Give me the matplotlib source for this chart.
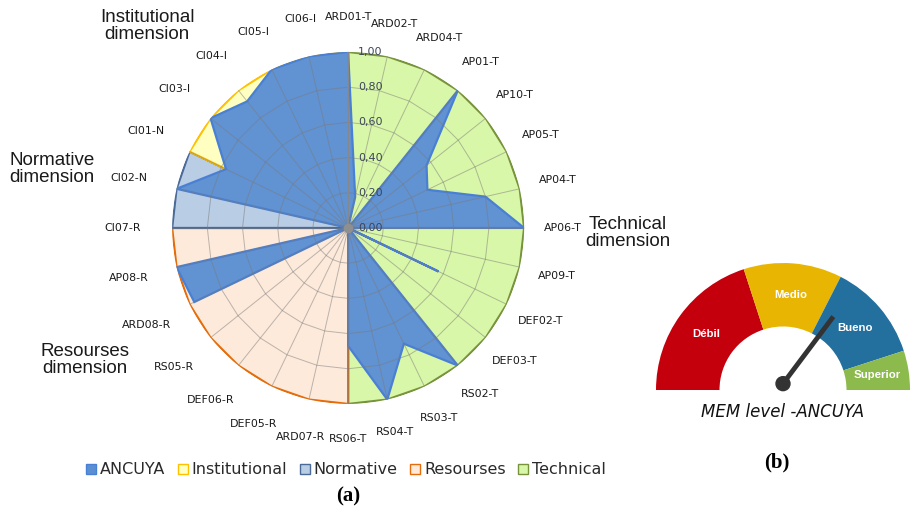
import numpy as np
import matplotlib
matplotlib.use('Agg')
import matplotlib.pyplot as plt
from matplotlib.patches import Patch, Wedge, Circle


# radar (a): categories clockwise from the top
categories = ['ARD01-T', 'ARD02-T', 'ARD04-T', 'AP01-T', 'AP10-T', 'AP05-T', 'AP04-T',
              'AP06-T', 'AP09-T', 'DEF02-T', 'DEF03-T', 'RS02-T', 'RS03-T', 'RS04-T',
              'RS06-T', 'ARD07-R', 'DEF05-R', 'DEF06-R', 'RS05-R', 'ARD08-R', 'AP08-R',
              'CI07-R', 'CI02-N', 'CI01-N', 'CI03-I', 'CI04-I', 'CI05-I', 'CI06-I']
ancuya = [1.00, 0.18, 0.00, 1.00, 0.57, 0.50, 0.80, 1.00, 0.00, 0.57, 0.00, 1.00, 0.73, 1.00,
          0.67, 0.00, 0.00, 0.00, 0.00, 0.97, 1.00, 0.00, 1.00, 0.77, 1.00, 0.92, 1.00, 1.00]

# dimension bands (first / last category index, 28 = back to the top)
region_names = ['Technical', 'Resourses', 'Normative', 'Institutional']
region_start = [0, 14, 21, 23]
region_end = [14, 21, 23, 28]
region_fill = ['#d9f7a8', '#fdeadb', '#b9cde5', '#ffffc2']
region_edge = ['#77933c', '#e46c0a', '#4a6a98', '#ffc000']

ring_levels = [0.0, 0.2, 0.4, 0.6, 0.8, 1.0]
ring_labels = ['0,00', '0,20', '0,40', '0,60', '0,80', '1,00']

# gauge (b)
levels = ['Débil', 'Medio', 'Bueno', 'Superior']
level_share = [0.40, 0.25, 0.25, 0.10]
level_colors = ['#c4000c', '#e8b602', '#23709f', '#8cba4c']
mem_value = 0.705

fig = plt.figure(figsize=(9.16, 5.15), dpi=100)
fig.patch.set_facecolor('white')

# ---------- radar ----------
ax = fig.add_axes([0.1879, 0.2156, 0.3843, 0.6835], projection='polar')
ax.set_theta_zero_location('N')
ax.set_theta_direction(-1)
ax.set_ylim(0, 1)
ax.set_axis_off()

n = len(categories)
theta = np.arange(n + 1) * 2 * np.pi / n

for name, s, e, fc, ec in zip(region_names, region_start, region_end, region_fill, region_edge):
    th = np.concatenate([[0.0], theta[s:e + 1], [0.0]])
    rr = np.concatenate([[0.0], np.ones(e - s + 1), [0.0]])
    ax.fill(th, rr, facecolor=fc, edgecolor=ec, lw=1.6, zorder=2)

vals = np.array(ancuya + [ancuya[0]])
ax.fill(theta, vals, facecolor='#6192d2', edgecolor='#4a80d4', lw=1.6, zorder=3)

# grid: polygon rings + spokes
for lv in ring_levels[1:-1]:
    ax.plot(theta, np.full(n + 1, lv), color='#7a7a7a', lw=0.7, alpha=0.5, zorder=4)
for t in theta[:-1]:
    ax.plot([t, t], [0, 1], color='#7a7a7a', lw=0.7, alpha=0.5, zorder=4)
ax.plot([0, 0], [0, 1], color='#8a8a8a', lw=1.2, zorder=4)
ax.plot([0], [0], 'o', color='#8f8f8f', ms=6, zorder=5)

for lv, lab in zip(ring_levels, ring_labels):
    ax.annotate(lab, xy=(0, lv), xytext=(7, 0), textcoords='offset points',
                ha='left', va='center', fontsize=8, color='#3c4658', zorder=6)

for t, lab in zip(theta[:-1], categories):
    if np.sin(t) > 0.01:
        r = 1.18 + 0.04 * abs(np.sin(t))   # right side sits a bit closer
    else:
        r = 1.2 + 0.08 * abs(np.sin(t))
    ax.text(t, r, lab, ha='center', va='center', fontsize=7.9, color='#1a1a1a')

dim_font = dict(family='Liberation Sans', fontsize=13.5, color='#1a1a1a',
                ha='center', va='center', linespacing=1.05)
fig.text(147 / 916, 1 - 26 / 515, 'Institutional\ndimension', **dim_font)
fig.text(52 / 916, 1 - 169 / 515, 'Normative\ndimension', **dim_font)
fig.text(85 / 916, 1 - 360 / 515, 'Resourses\ndimension', **dim_font)
fig.text(628 / 916, 1 - 233 / 515, 'Technical\ndimension', **dim_font)

handles = [Patch(facecolor='#5b8fd3', edgecolor='#4a80d4', label='ANCUYA')]
for name in ['Institutional', 'Normative', 'Resourses', 'Technical']:
    i = region_names.index(name)
    handles.append(Patch(facecolor=region_fill[i], edgecolor=region_edge[i], label=name))
fig.legend(handles=handles, loc='center', bbox_to_anchor=(346 / 916, 1 - 470 / 515),
           ncol=5, frameon=False, fontsize=11.5, handlelength=0.6, handleheight=0.6,
           handletextpad=0.25, columnspacing=0.8, labelcolor='#2a2a2a')

fig.text(348 / 916, 1 - 496 / 515, '(a)', family='Liberation Serif', fontweight='bold',
         fontsize=15, ha='center', va='center')

# ---------- gauge ----------
gx = fig.add_axes([633 / 916, 65 / 515, 300 / 916, 210 / 515])
gx.set_xlim(-150 / 127, 150 / 127)
gx.set_ylim(-60 / 127, 150 / 127)
gx.set_axis_off()

edges = 180 - 180 * np.concatenate([[0], np.cumsum(level_share)])
for i, (lab, col) in enumerate(zip(levels, level_colors)):
    a2, a1 = edges[i], edges[i + 1]
    gx.add_patch(Wedge((0, 0), 1.0, a1, a2, width=0.5, facecolor=col, edgecolor='none'))
    mid = np.radians((a1 + a2) / 2)
    gx.text(0.75 * np.cos(mid), 0.75 * np.sin(mid), lab, color='white', fontsize=8.2,
            fontweight='bold', family='Liberation Sans', ha='center', va='center')

ang = np.radians(180 - 180 * mem_value)
gx.plot([0, 0.66 * np.cos(ang)], [0.05, 0.05 + 0.66 * np.sin(ang)], color='#333333',
        lw=3.5, solid_capstyle='butt', zorder=5)
gx.add_patch(Circle((0, 0.05), 0.055, color='#333333', zorder=6))

gx.text(0, -0.17, 'MEM level -ANCUYA', fontsize=12, style='italic', ha='center',
        va='center', color='#111111')

fig.text(777 / 916, 1 - 462 / 515, '(b)', family='Liberation Serif', fontweight='bold',
         fontsize=15, ha='center', va='center')

fig.savefig('out.png', dpi=100)
